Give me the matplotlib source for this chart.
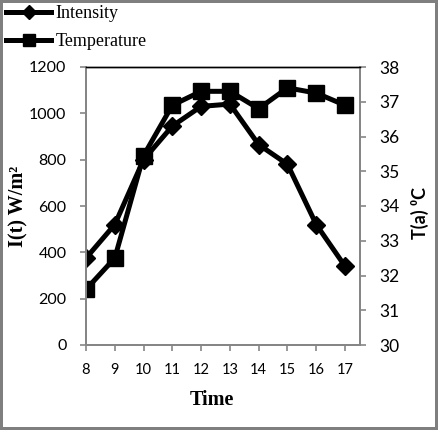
import matplotlib
matplotlib.use('Agg')
import matplotlib.pyplot as plt

# hours of the day
time_h = [8, 9, 10, 11, 12, 13, 14, 15, 16, 17]
# solar intensity W/m2
intensity = [375, 520, 800, 945, 1030, 1040, 865, 780, 520, 340]
# ambient temperature degC
temperature = [31.6, 32.5, 35.45, 36.9, 37.3, 37.3, 36.8, 37.4, 37.25, 36.9]

left_ticks = [0, 200, 400, 600, 800, 1000, 1200]
right_ticks = [30, 31, 32, 33, 34, 35, 36, 37, 38]

gray = '#868686'
serif = 'Liberation Serif'
sans = ['Lato', 'DejaVu Sans']

fig = plt.figure(figsize=(4.38, 4.30), dpi=100)
fig.patch.set_edgecolor('#7f7f7f')
fig.patch.set_linewidth(4)
ax = fig.add_axes([86 / 438, 1 - 345 / 430, 274 / 438, 278 / 430])
ax2 = ax.twinx()

l1, = ax.plot(time_h, intensity, color='black', lw=3.6, marker='D',
              markersize=9, label='Intensity', zorder=3)
l2, = ax2.plot(time_h, temperature, color='black', lw=3.6, marker='s',
               markersize=11.5, label='Temperature', zorder=2)

ax.set_xlim(8, 17.52)
ax.set_ylim(0, 1200)
ax2.set_ylim(30, 38)
ax.set_xticks(time_h)
ax.set_yticks(left_ticks)
ax2.set_yticks(right_ticks)

for a in (ax, ax2):
    for s in ('left', 'right', 'bottom'):
        a.spines[s].set_color(gray)
        a.spines[s].set_linewidth(1.4)
    a.spines['top'].set_color('black')
    a.spines['top'].set_linewidth(1.0)

ax.tick_params(axis='y', direction='out', length=4, width=1.2, color=gray, pad=10)
ax.tick_params(axis='x', direction='out', length=4, width=1.2, color=gray, pad=9)
ax2.tick_params(axis='y', direction='out', length=4, width=1.2, color=gray, pad=10)
for t in ax.get_yticklabels():
    t.set_fontfamily(sans)
    t.set_fontsize(11.5)
for t in ax.get_xticklabels():
    t.set_fontfamily(sans)
    t.set_fontsize(10.5)
for t in ax2.get_yticklabels():
    t.set_fontfamily(sans)
    t.set_fontsize(12.5)

ax.set_xlabel('Time', fontfamily=serif, fontweight='bold', fontsize=14.5)
ax.xaxis.set_label_coords(0.46, -0.198)
ax.xaxis.label.set_va('center')

ax.set_ylabel('I(t) W/m²', fontfamily=serif, fontweight='bold', fontsize=14.5)
ax.yaxis.set_label_coords(-0.248, 0.5)
ax.yaxis.label.set_va('center')

ax2.set_ylabel('T(a) ⁰C', fontfamily=sans, fontweight='bold', fontsize=13)
ax2.yaxis.set_label_coords(1.219, 0.475)
ax2.yaxis.label.set_va('center')

leg = ax.legend(handles=[l1, l2], loc='upper left',
                bbox_to_anchor=(6 / 438, 1 - 5 / 430), bbox_transform=fig.transFigure,
                frameon=False, prop={'family': serif, 'size': 13},
                handlelength=2.5, handletextpad=0.25, labelspacing=0.62,
                borderaxespad=0, borderpad=0)
leg.legend_handles[0].set_markersize(7)
leg.legend_handles[1].set_markersize(9)

fig.savefig('out.png', dpi=100)
